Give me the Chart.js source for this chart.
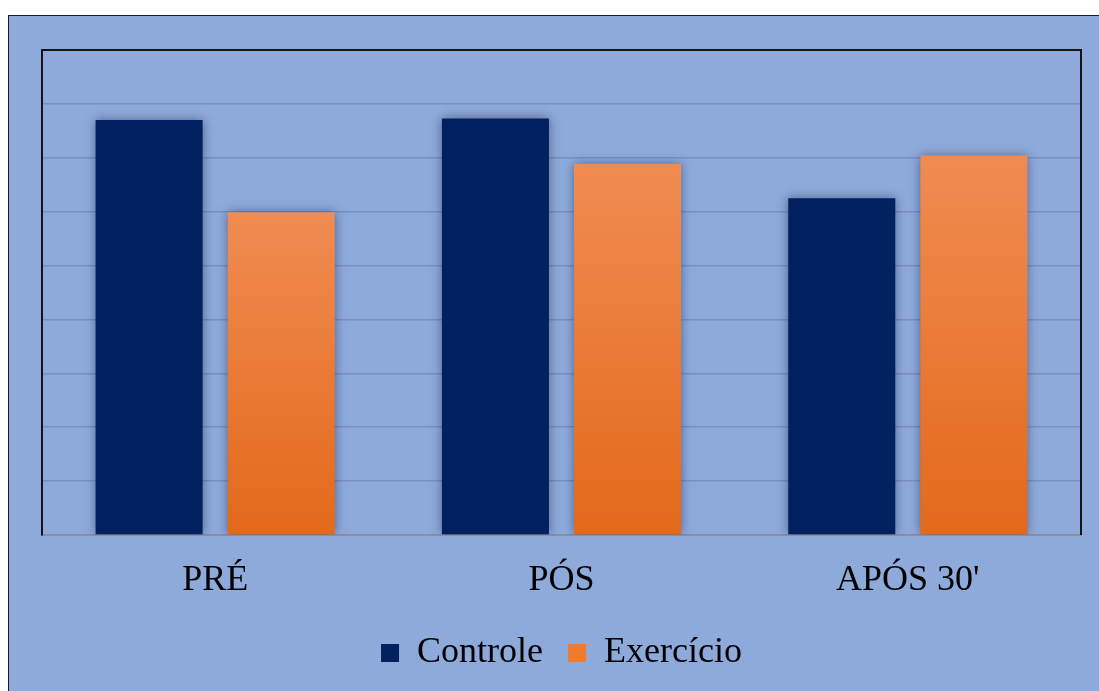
<!DOCTYPE html>
<html>
<head>
<meta charset="utf-8">
<script src="https://cdn.jsdelivr.net/npm/chart.js@4.4.1/dist/chart.umd.min.js"></script>
<style>
  html, body { margin: 0; padding: 0; background: #ffffff; overflow: hidden; }
  #frame {
    position: absolute; left: 8px; top: 15px;
    width: 1118px; height: 720px;
    background: #8eaadb;
    border: 1px solid #1c1c1c;
  }
  #chart { display: block; }
</style>
</head>
<body>
<div id="frame"><canvas id="chart" width="1118" height="720"></canvas></div>
<script>
// Categories and series values
const categories = ['PRÉ', 'PÓS', "APÓS 30'"];
const controleValues = [7.70, 7.73, 6.25];
const exercicioValues = [5.99, 6.89, 7.04];
const seriesNames = ['Controle', 'Exercício'];
const yMin = 0;
const yMax = 9;
const yStep = 1;

const navy = '#002060';
const orangeTop = '#f08c52';
const orangeBottom = '#e3691a';

// Per-bar vertical gradient for the orange series
function orangeFill(ctx) {
  const chart = ctx.chart;
  const area = chart.chartArea;
  if (!area || ctx.type !== 'data') return orangeTop;
  const yScale = chart.scales.y;
  const top = yScale.getPixelForValue(ctx.raw);
  const bottom = yScale.getPixelForValue(0);
  const g = chart.ctx.createLinearGradient(0, top, 0, bottom);
  g.addColorStop(0, orangeTop);
  g.addColorStop(1, orangeBottom);
  return g;
}

// Soft shadow behind bars
const barShadow = {
  id: 'barShadow',
  beforeDatasetsDraw(chart) {
    const c = chart.ctx;
    c.save();
    c.shadowColor = 'rgba(15, 25, 60, 0.5)';
    c.shadowBlur = 10;
    c.shadowOffsetX = 0;
    c.shadowOffsetY = 0;
  },
  afterDatasetsDraw(chart) {
    chart.ctx.restore();
  }
};

// Top and right edges of the plot frame
const plotFrame = {
  id: 'plotFrame',
  afterDraw(chart) {
    const { ctx, chartArea: a } = chart;
    ctx.save();
    ctx.strokeStyle = '#141414';
    ctx.lineWidth = 2;
    ctx.beginPath();
    ctx.moveTo(a.left, a.top);
    ctx.lineTo(a.right, a.top);
    ctx.lineTo(a.right, a.bottom);
    ctx.stroke();
    ctx.restore();
  }
};

new Chart(document.getElementById('chart'), {
  type: 'bar',
  data: {
    labels: categories,
    datasets: [
      {
        label: seriesNames[0],
        data: controleValues,
        backgroundColor: navy,
        borderWidth: 0
      },
      {
        label: seriesNames[1],
        data: exercicioValues,
        backgroundColor: orangeFill,
        borderWidth: 0
      }
    ]
  },
  options: {
    responsive: false,
    animation: false,
    events: [],
    categoryPercentage: 0.763,
    barPercentage: 0.81,
    layout: { padding: { left: 33, right: 46, top: 34, bottom: 55 } },
    scales: {
      x: {
        grid: { display: false, drawTicks: false },
        border: { display: true, color: '#8a8f99', width: 2 },
        ticks: {
          color: '#000000',
          padding: 24,
          font: { family: '"Liberation Serif", "Times New Roman", serif', size: 36 }
        },
        afterFit(scale) { scale.height = 75; }
      },
      y: {
        min: yMin,
        max: yMax,
        ticks: { display: false, stepSize: yStep },
        grid: { color: '#7690c0', lineWidth: 1.5, drawTicks: false },
        border: { display: true, color: '#141414', width: 2 }
      }
    },
    plugins: {
      legend: {
        position: 'bottom',
        labels: {
          color: '#000000',
          boxWidth: 18,
          boxHeight: 18,
          padding: 25,
          font: { family: '"Liberation Serif", "Times New Roman", serif', size: 36 },
          generateLabels(chart) {
            return chart.data.datasets.map((ds, i) => ({
              text: ds.label,
              fillStyle: i === 0 ? navy : '#ef7b30',
              strokeStyle: 'rgba(0,0,0,0)',
              lineWidth: 0,
              hidden: false,
              datasetIndex: i
            }));
          }
        }
      },
      tooltip: { enabled: false }
    }
  },
  plugins: [barShadow, plotFrame]
});
</script>
</body>
</html>
